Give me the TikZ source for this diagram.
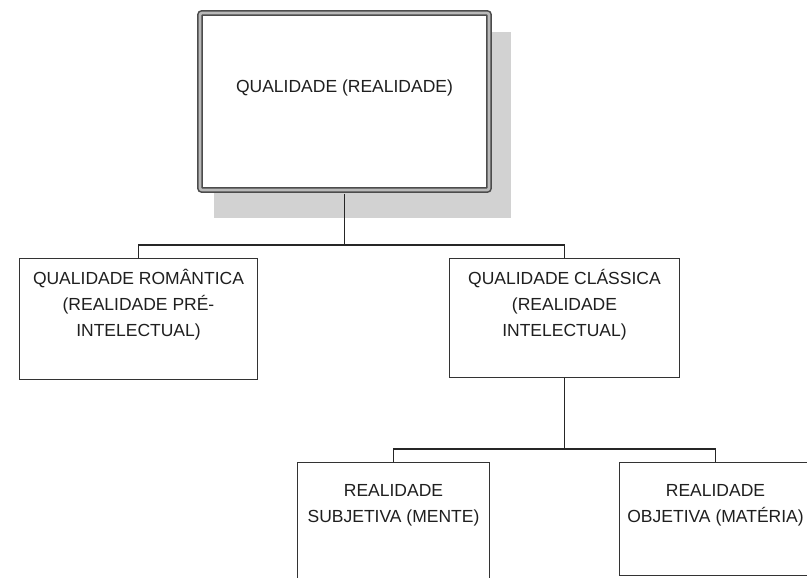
\documentclass[tikz,border=0pt]{standalone}
\usepackage{fontspec}
\setmainfont{Liberation Sans}
\usetikzlibrary{positioning,backgrounds}
\tikzset{
  box/.style={draw=black!80, fill=white, line width=1.2pt, inner sep=0pt},
  topbox/.style={draw=black!70, double=gray!55, fill=white, line width=1.6pt, double distance=2.6pt, rounded corners=2pt, inner sep=0pt},
  boxtext/.style={align=center, inner sep=0pt, text=black!88, font=\fontsize{17.5}{26}\selectfont},
  link/.style={draw=black!85, line width=1.5pt},
  shadowfill/.style={fill=gray!35}
}
\begin{document}
\begin{tikzpicture}[x=1pt, y=-1pt]
  \useasboundingbox (0,0) rectangle (807,578);
  \clip (0,0) rectangle (807,578);
  \node[topbox, minimum width=289pt, minimum height=177pt,
        label={[boxtext, yshift=13.5pt]center:{QUALIDADE (REALIDADE)}}] (quali) at (344.5,101.5) {};
  \begin{scope}[on background layer]
    \fill[shadowfill] ([xshift=15pt,yshift=-20pt]quali.north west) rectangle ([xshift=21pt,yshift=-27pt]quali.south east);
  \end{scope}
  \node[box, minimum width=238pt, minimum height=121pt,
        label={[boxtext, yshift=14.5pt]center:{QUALIDADE ROMÂNTICA\\(REALIDADE PRÉ-\\INTELECTUAL)}}] (roman) at (138.5,319) {};
  \node[box, minimum width=230pt, minimum height=119pt,
        label={[boxtext, yshift=13.5pt]center:{QUALIDADE CLÁSSICA\\(REALIDADE\\INTELECTUAL)}}] (class) at (564.5,318) {};
  \node[box, minimum width=192pt, minimum height=121pt,
        label={[boxtext, yshift=17.5pt]center:{REALIDADE\\SUBJETIVA (MENTE)}}] (subj) at (393.5,523) {};
  \node[box, minimum width=192pt, minimum height=113pt,
        label={[boxtext, yshift=13.5pt]center:{REALIDADE\\OBJETIVA (MATÉRIA)}}] (obj) at (715.5,519) {};
  \coordinate (bus1) at (344.5,245);
  \coordinate (bus2) at (class.south |- 0,449);
  \draw[link] ([yshift=-3pt]quali.south) -- (bus1);
  \draw[link] (roman.north) |- (bus1) -| (class.north);
  \draw[link] (class.south) -- (bus2);
  \draw[link] (subj.north) |- (bus2) -| (obj.north);
\end{tikzpicture}
\end{document}
